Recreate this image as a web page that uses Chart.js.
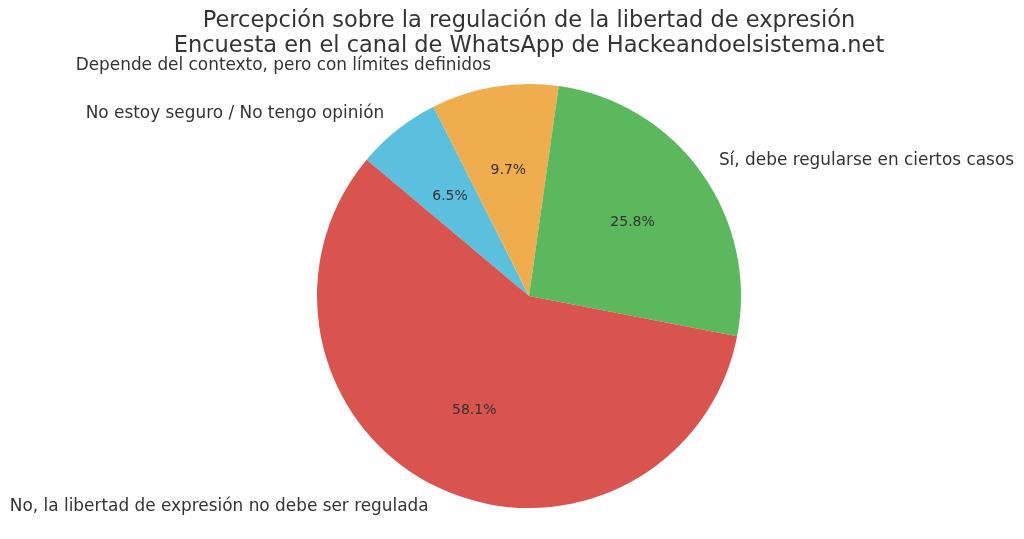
<!DOCTYPE html>
<html>
<head>
<meta charset="utf-8">
<script src="https://cdn.jsdelivr.net/npm/chart.js@4"></script>
<style>
  html, body { margin: 0; padding: 0; background: #fff; }
</style>
</head>
<body>
<canvas id="grafico" width="1024" height="539"></canvas>
<script>
// Dados da pesquisa (ordem no sentido horário, começando no topo esquerdo)
const categorias = [
    'No estoy seguro / No tengo opinión',
    'Depende del contexto, pero con límites definidos',
    'Sí, debe regularse en ciertos casos',
    'No, la libertad de expresión no debe ser regulada'
];
const votos = [2, 3, 8, 18];
const cores = ['#5bc0de', '#f0ad4e', '#5cb85c', '#d9534f'];
const titulo = [
    'Percepción sobre la regulación de la libertad de expresión',
    'Encuesta en el canal de WhatsApp de Hackeandoelsistema.net'
];

const corTexto = '#333333';
const fonte = 'DejaVu Sans';

// Plugin para desenhar os rótulos como no matplotlib
const rotulosPlugin = {
    id: 'rotulos',
    afterDraw(chart) {
        const ctx = chart.ctx;
        const meta = chart.getDatasetMeta(0);
        const total = votos.reduce((acc, v) => acc + v, 0);

        ctx.save();
        ctx.fillStyle = corTexto;

        // Título
        ctx.font = `22.5px "${fonte}"`;
        ctx.textAlign = 'center';
        ctx.textBaseline = 'middle';
        const cx = meta.data[0].x;
        ctx.fillText(titulo[0], cx, 21);
        ctx.fillText(titulo[1], cx, 46);

        meta.data.forEach((arco, i) => {
            const meio = (arco.startAngle + arco.endAngle) / 2;
            const r = arco.outerRadius;

            // Rótulo externo
            const lx = arco.x + Math.cos(meio) * r * 1.1;
            const ly = arco.y + Math.sin(meio) * r * 1.1;
            ctx.font = `16.9px "${fonte}"`;
            ctx.textAlign = Math.cos(meio) > 0 ? 'left' : 'right';
            ctx.textBaseline = 'middle';
            ctx.fillText(categorias[i], lx, ly);

            // Percentual
            const px = arco.x + Math.cos(meio) * r * 0.6;
            const py = arco.y + Math.sin(meio) * r * 0.6;
            ctx.font = `14px "${fonte}"`;
            ctx.textAlign = 'center';
            ctx.fillText((votos[i] / total * 100).toFixed(1) + '%', px, py);
        });
        ctx.restore();
    }
};

const config = {
    type: 'pie',
    data: {
        labels: categorias,
        datasets: [{
            data: votos,
            backgroundColor: cores,
            borderWidth: 0
        }]
    },
    options: {
        responsive: false,
        animation: false,
        rotation: -50,
        layout: {
            padding: { top: 84, bottom: 31, left: 34, right: 0 }
        },
        plugins: {
            legend: { display: false },
            tooltip: { enabled: false },
            title: { display: false }
        }
    },
    plugins: [rotulosPlugin]
};

const meuGrafico = new Chart(document.getElementById('grafico'), config);
</script>
</body>
</html>
